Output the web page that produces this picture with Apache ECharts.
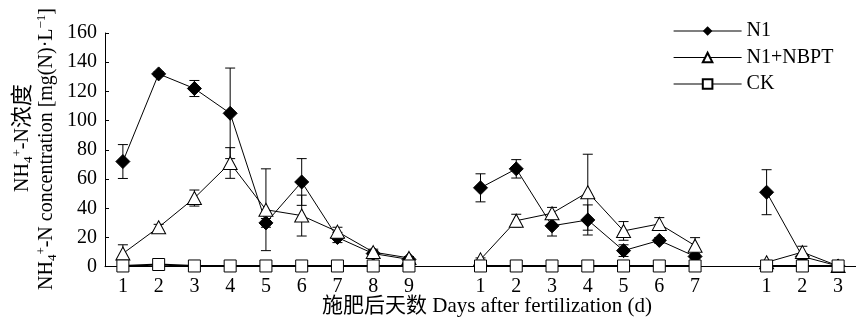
<!DOCTYPE html>
<html>
<head>
<meta charset="utf-8">
<script src="https://cdn.jsdelivr.net/npm/echarts@6/dist/echarts.min.js"></script>
<style>html,body{margin:0;padding:0;background:#fff;}#c{width:856px;height:324px;}</style>
</head>
<body>
<div id="c"></div>
<script>
// Categories: three sampling periods separated by an empty slot
const days = ['1','2','3','4','5','6','7','8','9','','1','2','3','4','5','6','7','','1','2','3'];
const seriesNames = ['N1', 'N1+NBPT', 'CK'];
const n1 =     [72, 132, 122, 105, 30, 58, 20, 9, 5, null, 54, 67, 28, 32, 11, 18, 7, null, 51, 7, 0.5];
const n1Err =  [11.6, 1.5, 5.5, 31, 3, 16, 3.5, 2, 1, null, 9.6, 6.3, 7, 10.3, 4, 2, 1.5, null, 15.4, 2, 0];
const nbpt =   [9, 27, 47, 71, 39, 35, 24, 10, 6, null, 5, 31.5, 36.6, 51, 24.5, 29.3, 14.4, null, 3, 10, 0.5];
const nbptErr =[6, 2, 5.5, 10.5, 28, 14, 3, 2, 1, null, 1, 4.4, 4, 26, 6.4, 4.3, 5.5, null, 1, 4, 0];
const ck =     [0.5, 1.5, 0.5, 0.5, 0.5, 0.5, 0.5, 0.5, 0.5, null, 0.5, 0.5, 0.5, 0.5, 0.5, 0.5, 0.5, null, 0.5, 0.5, 0.5];
const yTicks = [0, 20, 40, 60, 80, 100, 120, 140, 160];

const FONT = '"Liberation Serif", "Noto Sans CJK SC", serif';
const chart = echarts.init(document.getElementById('c'), null, {renderer: 'canvas'});

function errSeries(vals, errs, z) {
  const data = [];
  vals.forEach((v, i) => { if (v != null && errs[i]) data.push([i, v - errs[i], v + errs[i]]); });
  return {
    type: 'custom', silent: true, z: z,
    encode: {x: 0, y: [1, 2]},
    data: data,
    renderItem: function (params, api) {
      const x = api.value(0);
      const lo = api.coord([x, api.value(1)]);
      const hi = api.coord([x, api.value(2)]);
      const hw = 5;
      const st = {stroke: '#000', lineWidth: 1};
      return {type: 'group', children: [
        {type: 'line', shape: {x1: lo[0], y1: lo[1], x2: hi[0], y2: hi[1]}, style: st},
        {type: 'line', shape: {x1: lo[0] - hw, y1: lo[1], x2: lo[0] + hw, y2: lo[1]}, style: st},
        {type: 'line', shape: {x1: hi[0] - hw, y1: hi[1], x2: hi[0] + hw, y2: hi[1]}, style: st}
      ]};
    }
  };
}

const rich = {
  n: {fontSize: 20, fontFamily: FONT, color: '#000', lineHeight: 24, verticalAlign: 'middle'},
  c: {fontSize: 22, fontFamily: FONT, color: '#000', lineHeight: 24, verticalAlign: 'middle'},
  sub: {fontSize: 13, fontFamily: FONT, color: '#000', lineHeight: 13, verticalAlign: 'bottom'},
  sup: {fontSize: 13, fontFamily: FONT, color: '#000', lineHeight: 13, verticalAlign: 'top'}
};

chart.setOption({
  animation: false,
  backgroundColor: '#fff',
  grid: {left: 105, right: -4.4, top: 33, bottom: 57.3},
  legend: {
    data: seriesNames,
    orient: 'vertical',
    left: 668, top: 16,
    itemWidth: 68, itemHeight: 12, itemGap: 6.5,
    lineStyle: {width: 1.2, color: '#000'},
    textStyle: {fontSize: 20, fontFamily: FONT, color: '#000'}
  },
  xAxis: {
    type: 'category',
    data: days,
    boundaryGap: true,
    axisLine: {lineStyle: {color: '#000', width: 1}},
    axisTick: {inside: true, length: 4, lineStyle: {color: '#000'}},
    axisLabel: {color: '#000', fontSize: 20, fontFamily: FONT, margin: 10, interval: 0}
  },
  yAxis: {
    type: 'value',
    min: yTicks[0], max: yTicks[yTicks.length - 1], interval: 20,
    splitLine: {show: false},
    axisLine: {show: true, lineStyle: {color: '#000', width: 1}},
    axisTick: {show: true, inside: true, length: 4, lineStyle: {color: '#000'}},
    axisLabel: {color: '#000', fontSize: 20, fontFamily: FONT, margin: 8}
  },
  graphic: [
    {type: 'text', x: 23, y: 138, rotation: Math.PI / 2,
     style: {text: '{n|NH}{sub|4}{sup|+}{n|-N}{c|浓度}', rich: rich, align: 'center', verticalAlign: 'middle'}},
    {type: 'text', x: 47, y: 149, rotation: Math.PI / 2,
     style: {text: '{n|NH}{sub|4}{sup|+}{n|-N concentration [mg(N)·L}{sup|−1}{n|]}', rich: rich, align: 'center', verticalAlign: 'middle'}},
    {type: 'text', x: 487, y: 306,
     style: {text: '施肥后天数 Days after fertilization (d)', font: '21px ' + FONT, fill: '#000', align: 'center', verticalAlign: 'middle'}}
  ],
  series: [
    errSeries(n1, n1Err, 1),
    errSeries(nbpt, nbptErr, 1),
    {
      name: 'N1', type: 'line', data: n1, connectNulls: false, z: 2,
      symbol: 'diamond', symbolSize: 14,
      lineStyle: {color: '#000', width: 1},
      itemStyle: {color: '#000', borderColor: '#000'}
    },
    {
      name: 'N1+NBPT', type: 'line', data: nbpt, connectNulls: false, z: 3,
      symbol: 'triangle', symbolSize: [14, 13],
      lineStyle: {color: '#000', width: 1},
      itemStyle: {color: '#fff', borderColor: '#000', borderWidth: 1}
    },
    {
      name: 'CK', type: 'line', data: ck, connectNulls: false, z: 4,
      symbol: 'rect', symbolSize: 12,
      lineStyle: {color: '#000', width: 2},
      itemStyle: {color: '#fff', borderColor: '#000', borderWidth: 1}
    }
  ]
});
</script>
</body>
</html>
